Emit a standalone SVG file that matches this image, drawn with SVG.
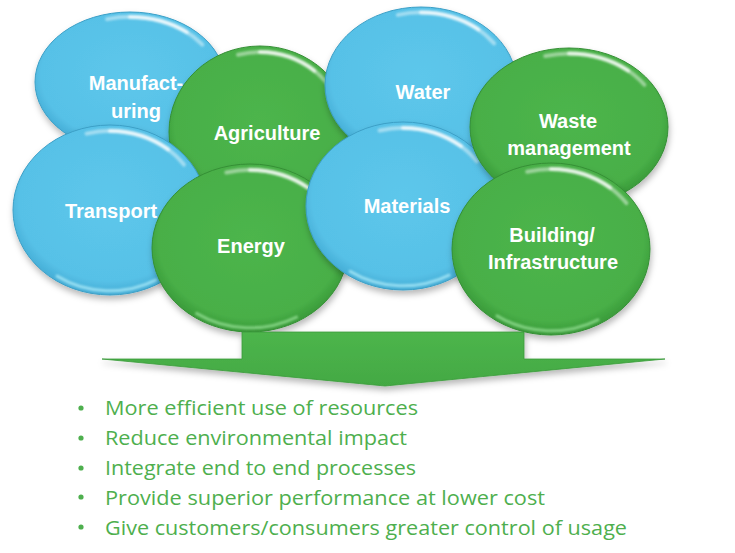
<svg xmlns="http://www.w3.org/2000/svg" width="735" height="553" viewBox="0 0 735 553">
<defs>
  <radialGradient id="gBlue" cx="0.5" cy="0.45" r="0.55">
    <stop offset="0" stop-color="#5DC7EB"/>
    <stop offset="0.85" stop-color="#57C1E7"/>
    <stop offset="1" stop-color="#43ABD4"/>
  </radialGradient>
  <radialGradient id="gGreen" cx="0.5" cy="0.45" r="0.55">
    <stop offset="0" stop-color="#4DB54C"/>
    <stop offset="0.85" stop-color="#48AF47"/>
    <stop offset="1" stop-color="#389838"/>
  </radialGradient>
  <linearGradient id="gArrow" x1="0" y1="0" x2="0" y2="1">
    <stop offset="0" stop-color="#4DB54C"/>
    <stop offset="1" stop-color="#43A943"/>
  </linearGradient>
  <filter id="shadow" x="-15%" y="-15%" width="130%" height="140%">
    <feDropShadow dx="1" dy="4" stdDeviation="3" flood-color="#000" flood-opacity="0.28"/>
  </filter>
  <filter id="soft" x="-20%" y="-50%" width="140%" height="200%">
    <feGaussianBlur stdDeviation="1.2"/>
  </filter>
</defs>
<style>
  .blue { fill: url(#gBlue); stroke: #3C9FC6; stroke-width: 1; }
  .green { fill: url(#gGreen); stroke: #358F35; stroke-width: 1; }
  .hlo { fill: none; stroke: #FFFFFF; stroke-opacity: 0.45; stroke-width: 4; stroke-linecap: round; }
  .hli { fill: none; stroke: #FFFFFF; stroke-opacity: 0.75; stroke-width: 4; stroke-linecap: round; }
  .rimb { fill: none; stroke: #A8E8F8; stroke-opacity: 0.8; stroke-width: 3; stroke-linecap: round; }
  .rimg { fill: none; stroke: #8EDC8E; stroke-opacity: 0.8; stroke-width: 3; stroke-linecap: round; }
  .lbl { font-family: "Liberation Sans", Arial, sans-serif; font-weight: bold; font-size: 20px; fill: #FFFFFF; text-anchor: middle; }
  .bul { font-family: "Open Sans", "Liberation Sans", sans-serif; font-size: 20px; fill: #4EAF4E; }
</style>

<g id="manufacturing">
  <ellipse cx="130" cy="82" rx="95" ry="70" class="blue" filter="url(#shadow)"/>
  <g filter="url(#soft)">
    <path class="hlo" d="M 107.1 19.1 A 88.35 65.1 0 0 1 202.4 44.6"/>
    <path class="hli" d="M 130 16.9 A 88.35 65.1 0 0 1 186.8 32.1"/>
  </g>
  <text class="lbl" x="136" y="90">Manufact-</text>
  <text class="lbl" x="136" y="118">uring</text>
</g>
<g id="agriculture">
  <ellipse cx="260" cy="132" rx="91" ry="86" class="green" filter="url(#shadow)"/>
  <g filter="url(#soft)">
    <path class="hlo" d="M 238.1 54.7 A 84.63 79.98 0 0 1 329.3 86.1"/>
    <path class="hli" d="M 260 52.0 A 84.63 79.98 0 0 1 314.4 70.7"/>
  </g>
  <text class="lbl" x="267" y="140">Agriculture</text>
</g>
<g id="transport">
  <ellipse cx="110" cy="210" rx="97" ry="85" class="blue" filter="url(#shadow)"/>
  <g filter="url(#soft)">
    <path class="hlo" d="M 86.6 133.6 A 90.21 79.05 0 0 1 183.9 164.6"/>
    <path class="hli" d="M 110 131.0 A 90.21 79.05 0 0 1 168.0 149.4"/>
    <path class="rimb" d="M 156.1 279.9 A 92.15 80.75 0 0 1 57.1 276.1"/>
  </g>
  <text class="lbl" x="111" y="218">Transport</text>
</g>
<g id="energy">
  <ellipse cx="250" cy="248" rx="98" ry="84" class="green" filter="url(#shadow)"/>
  <g filter="url(#soft)">
    <path class="hlo" d="M 226.4 172.5 A 91.14 78.12 0 0 1 324.6 203.2"/>
    <path class="hli" d="M 250 169.9 A 91.14 78.12 0 0 1 308.6 188.2"/>
    <path class="rimg" d="M 296.6 317.1 A 93.1 79.8 0 0 1 196.6 313.4"/>
  </g>
  <text class="lbl" x="251" y="253">Energy</text>
</g>
<g id="water">
  <ellipse cx="421" cy="85" rx="96" ry="78" class="blue" filter="url(#shadow)"/>
  <g filter="url(#soft)">
    <path class="hlo" d="M 397.9 14.9 A 89.28 72.54 0 0 1 494.1 43.4"/>
    <path class="hli" d="M 421 12.5 A 89.28 72.54 0 0 1 478.4 29.4"/>
  </g>
  <text class="lbl" x="423" y="99">Water</text>
</g>
<g id="materials">
  <ellipse cx="403" cy="206" rx="97" ry="84" class="blue" filter="url(#shadow)"/>
  <g filter="url(#soft)">
    <path class="hlo" d="M 379.6 130.5 A 90.21 78.12 0 0 1 476.9 161.2"/>
    <path class="hli" d="M 403 127.9 A 90.21 78.12 0 0 1 461.0 146.2"/>
    <path class="rimb" d="M 449.1 275.1 A 92.15 79.8 0 0 1 350.1 271.4"/>
  </g>
  <text class="lbl" x="407" y="213">Materials</text>
</g>
<g id="waste-management">
  <ellipse cx="569" cy="127" rx="99" ry="79" class="green" filter="url(#shadow)"/>
  <g filter="url(#soft)">
    <path class="hlo" d="M 545.2 56.0 A 92.07 73.47 0 0 1 644.4 84.8"/>
    <path class="hli" d="M 569 53.5 A 92.07 73.47 0 0 1 628.2 70.7"/>
  </g>
  <text class="lbl" x="568" y="128">Waste</text>
  <text class="lbl" x="569" y="155">management</text>
</g>
<g id="building-infrastructure">
  <ellipse cx="551" cy="249" rx="99" ry="86" class="green" filter="url(#shadow)"/>
  <g filter="url(#soft)">
    <path class="hlo" d="M 527.2 171.7 A 92.07 79.98 0 0 1 626.4 203.1"/>
    <path class="hli" d="M 551 169.0 A 92.07 79.98 0 0 1 610.2 187.7"/>
    <path class="rimg" d="M 598.0 319.8 A 94.05 81.7 0 0 1 497.0 315.9"/>
  </g>
  <text class="lbl" x="552" y="242">Building/</text>
  <text class="lbl" x="553" y="269">Infrastructure</text>
</g>

<g id="connectors">
  <path d="M 242 332 L 524 332 L 524 359 L 665 359 L 385 386 L 102 359 L 242 359 Z" fill="url(#gArrow)" stroke="#3A9A3A" stroke-width="0.8" filter="url(#shadow)"/>
</g>

<g id="outcomes">
  <circle cx="81" cy="408" r="2.6" fill="#4EAF4E"/>
  <circle cx="81" cy="438" r="2.6" fill="#4EAF4E"/>
  <circle cx="81" cy="468" r="2.6" fill="#4EAF4E"/>
  <circle cx="81" cy="497" r="2.6" fill="#4EAF4E"/>
  <circle cx="81" cy="527" r="2.6" fill="#4EAF4E"/>
  <text class="bul" x="105" y="415" textLength="313" lengthAdjust="spacingAndGlyphs">More efficient use of resources</text>
  <text class="bul" x="105" y="445" textLength="302" lengthAdjust="spacingAndGlyphs">Reduce environmental impact</text>
  <text class="bul" x="105" y="475" textLength="311" lengthAdjust="spacingAndGlyphs">Integrate end to end processes</text>
  <text class="bul" x="105" y="505" textLength="440" lengthAdjust="spacingAndGlyphs">Provide superior performance at lower cost</text>
  <text class="bul" x="105" y="535" textLength="522" lengthAdjust="spacingAndGlyphs">Give customers/consumers greater control of usage</text>
</g>
</svg>
